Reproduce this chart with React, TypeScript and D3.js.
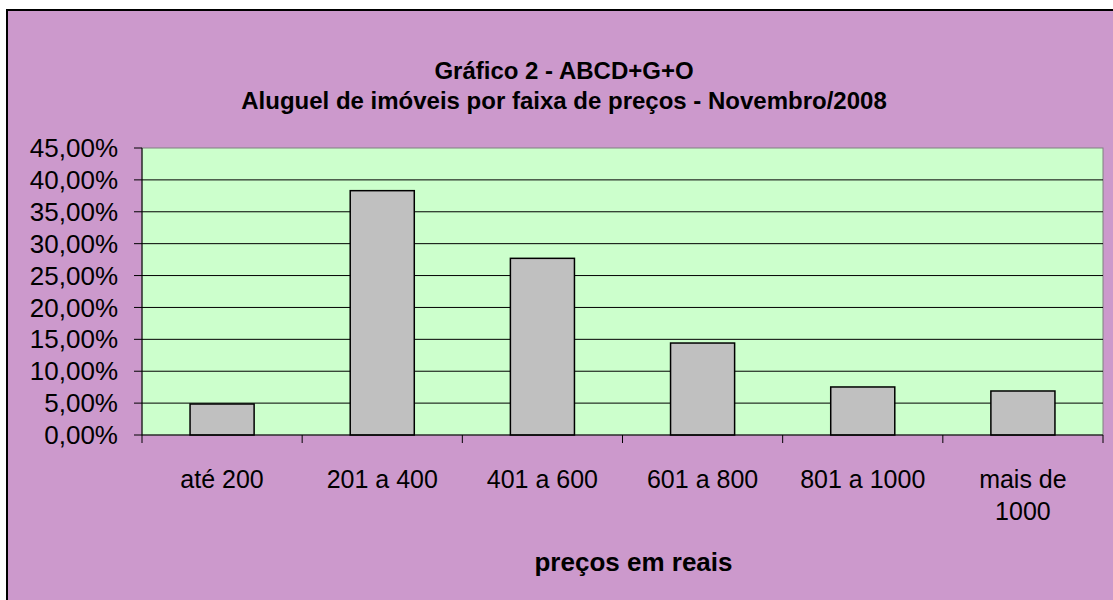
import React from "react";
import * as d3 from "d3";

const categories: string[][] = [["até 200"], ["201 a 400"], ["401 a 600"], ["601 a 800"], ["801 a 1000"], ["mais de", "1000"]];
const values: number[] = [4.86, 38.31, 27.7, 14.42, 7.53, 6.9];
const yTicks: number[] = [0, 5, 10, 15, 20, 25, 30, 35, 40, 45];
const titleLines: string[] = ["Gráfico 2 - ABCD+G+O", "Aluguel de imóveis por faixa de preços - Novembro/2008"];
const xTitle = "preços em reais";

const W = 1113;
const H = 600;
const plot = { left: 142, right: 1103, top: 148, bottom: 435 };
const FONT = "'Liberation Sans', Arial, sans-serif";

export default function App() {
  const keys = categories.map((c) => c.join(" "));
  const x = d3.scaleBand<string>().domain(keys).range([plot.left, plot.right]).paddingInner(0.6).paddingOuter(0.3);
  const y = d3.scaleLinear().domain([0, 45]).range([plot.bottom, plot.top]);
  const step = x.step();
  const bounds = d3.range(categories.length + 1).map((i) => plot.left + i * step);
  const fmt = (v: number) => v.toFixed(2).replace(".", ",") + "%";

  return (
    <svg width={W} height={H} style={{ position: "absolute", left: 0, top: 0, display: "block" }} fontFamily={FONT}>
      <rect x={0} y={0} width={W} height={H} fill="#ffffff" />
      <rect x={7} y={10} width={W + 20} height={H + 20} fill="#CC99CC" stroke="#000" strokeWidth={2} />
      {titleLines.map((t, i) => (
        <text key={i} x={564} y={79 + i * 30} textAnchor="middle" fontWeight="bold" fontSize={24} fill="#000">
          {t}
        </text>
      ))}
      <rect x={plot.left} y={plot.top} width={plot.right - plot.left} height={plot.bottom - plot.top} fill="#CCFFCC" stroke="#808080" strokeWidth={1} />
      {yTicks.filter((t) => t > 0 && t < 45).map((t) => (
        <line key={t} x1={plot.left} x2={plot.right} y1={y(t)} y2={y(t)} stroke="#000" strokeWidth={1} />
      ))}
      {values.map((v, i) => (
        <rect key={i} x={x(keys[i])!} y={y(v)} width={x.bandwidth()} height={y(0) - y(v)} fill="#C0C0C0" stroke="#000" strokeWidth={1.5} />
      ))}
      <line x1={plot.left} x2={plot.left} y1={plot.top} y2={plot.bottom} stroke="#000" strokeWidth={1} />
      <line x1={plot.left} x2={plot.right} y1={plot.bottom} y2={plot.bottom} stroke="#000" strokeWidth={1} />
      {yTicks.map((t) => (
        <g key={t}>
          <line x1={plot.left - 8} x2={plot.left} y1={y(t)} y2={y(t)} stroke="#000" strokeWidth={1} />
          <text x={118} y={y(t)} dy="0.35em" textAnchor="end" fontSize={26} fill="#000">
            {fmt(t)}
          </text>
        </g>
      ))}
      {bounds.map((b, i) => (
        <line key={i} x1={b} x2={b} y1={plot.bottom} y2={plot.bottom + 8} stroke="#000" strokeWidth={1} />
      ))}
      {categories.map((c, i) => (
        <text key={i} x={x(keys[i])! + x.bandwidth() / 2} y={488} textAnchor="middle" fontSize={25} fill="#000">
          {c.map((line, j) => (
            <tspan key={j} x={x(keys[i])! + x.bandwidth() / 2} dy={j === 0 ? 0 : 32}>
              {line}
            </tspan>
          ))}
        </text>
      ))}
      <text x={(plot.left + plot.right) / 2 + 11} y={571} textAnchor="middle" fontWeight="bold" fontSize={26} fill="#000">
        {xTitle}
      </text>
    </svg>
  );
}
